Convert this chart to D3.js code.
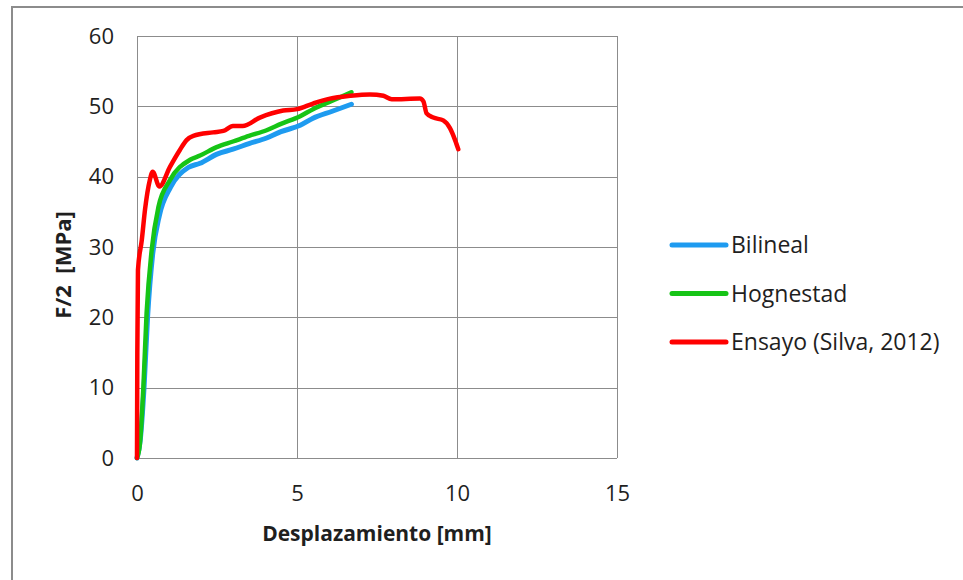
<!DOCTYPE html>
<head>
<meta charset="UTF-8">
<title>F/2 vs Desplazamiento</title>
<style>
body { margin: 0; background: #fff; }
text { font-family: "Open Sans", "Noto Sans", sans-serif; fill: #1f1f1f; }
.grid line { stroke: #8c8c8c; stroke-width: 1px; }
.serie { fill: none; stroke-linejoin: round; stroke-linecap: round; }
</style>
</head>
<body>
<script src="https://cdn.jsdelivr.net/npm/d3@7/dist/d3.min.js"></script>
<script>

// series: [desplazamiento mm, F/2 MPa]
var bilineal = [
  [0, 0], [0.1, 2.5], [0.22, 10], [0.33, 20], [0.49, 29], [0.7, 34.5],
  [1.05, 38.5], [1.6, 41.3], [1.97, 41.9], [2.5, 43.2], [3.0, 43.9],
  [3.5, 44.7], [4.05, 45.5], [4.5, 46.4], [5.1, 47.3], [5.5, 48.3],
  [6.1, 49.3], [6.7, 50.3]
];
var hognestad = [
  [0, 0], [0.09, 2], [0.2, 10.1], [0.3, 20.6], [0.46, 29.6], [0.67, 35.7],
  [1.03, 39.5], [1.66, 42.4], [1.97, 43.0], [2.49, 44.2], [3.0, 45.0],
  [3.5, 45.8], [4.05, 46.6], [4.5, 47.5], [5.1, 48.6], [5.5, 49.6],
  [6.1, 50.8], [6.7, 52.0]
];
var ensayo = [
  [0, 0], [0.01, 15], [0.03, 26.7], [0.15, 31], [0.25, 35.3], [0.4, 39.5],
  [0.49, 40.7], [0.7, 38.6], [1.03, 41.4], [1.34, 43.8], [1.55, 45.2],
  [1.76, 45.8], [2.38, 46.3], [2.7, 46.5], [3.0, 47.2], [3.3, 47.2],
  [3.84, 48.4], [4.57, 49.4], [5.0, 49.6], [5.5, 50.4], [6.03, 51.1],
  [6.66, 51.5], [7.28, 51.7], [7.7, 51.5], [7.96, 51.0], [8.84, 51.1],
  [8.95, 50.7], [9.05, 49.0], [9.26, 48.4], [9.57, 48.0], [9.78, 46.9],
  [9.94, 45.2], [10.04, 43.9]
];

var xTicks = [0, 5, 10, 15];
var yTicks = [0, 10, 20, 30, 40, 50, 60];
var seriesNames = ["Bilineal", "Hognestad", "Ensayo (Silva, 2012)"];
var seriesColors = ["#1e9bf0", "#16c416", "#ff0000"];

var width = 963, height = 580;
var plot = {left: 137, right: 617, top: 36, bottom: 458};

var svg = d3.select("body").append("svg")
    .attr("width", width)
    .attr("height", height);

// outer chart frame
svg.append("rect")
    .attr("x", 12).attr("y", 7)
    .attr("width", width + 20).attr("height", height + 20)
    .attr("fill", "#fff")
    .attr("stroke", "#8c8c8c")
    .attr("stroke-width", 2);

var x = d3.scaleLinear().domain([0, 15]).range([plot.left, plot.right]);
var y = d3.scaleLinear().domain([0, 60]).range([plot.bottom, plot.top]);

// gridlines
var grid = svg.append("g").attr("class", "grid");
grid.selectAll("line.h").data(yTicks).enter().append("line")
    .attr("class", "h")
    .attr("x1", plot.left).attr("x2", plot.right)
    .attr("y1", function(d) { return Math.round(y(d)) + 0.5; })
    .attr("y2", function(d) { return Math.round(y(d)) + 0.5; });
grid.selectAll("line.v").data(xTicks).enter().append("line")
    .attr("class", "v")
    .attr("y1", plot.top).attr("y2", plot.bottom)
    .attr("x1", function(d) { return Math.round(x(d)) + 0.5; })
    .attr("x2", function(d) { return Math.round(x(d)) + 0.5; });

// axes (tick labels only, lines come from the grid)
var xAxis = svg.append("g")
    .attr("transform", "translate(0," + (plot.bottom + 27) + ")")
    .call(d3.axisBottom(x).tickValues(xTicks).tickSize(0).tickPadding(0));
var yAxis = svg.append("g")
    .attr("transform", "translate(" + (plot.left - 23) + ",0)")
    .call(d3.axisLeft(y).tickValues(yTicks).tickSize(0).tickPadding(0));
[xAxis, yAxis].forEach(function(a) {
  a.select(".domain").remove();
  a.selectAll("text").attr("font-size", "22px")
      .attr("font-family", null).attr("fill", "#1f1f1f");
});

// series lines
var line = d3.line()
    .x(function(d) { return x(d[0]); })
    .y(function(d) { return y(d[1]); })
    .curve(d3.curveMonotoneX);

var allSeries = [bilineal, hognestad, ensayo];
var widths = [5, 4.5, 4.5];
svg.selectAll("path.serie").data(allSeries).enter().append("path")
    .attr("class", "serie")
    .attr("d", line)
    .attr("stroke", function(d, i) { return seriesColors[i]; })
    .attr("stroke-width", function(d, i) { return widths[i]; });

// axis titles
svg.append("text")
    .attr("x", (plot.left + plot.right) / 2)
    .attr("y", 541)
    .attr("text-anchor", "middle")
    .attr("font-size", "21px")
    .attr("font-weight", "bold")
    .text("Desplazamiento [mm]");

svg.append("text")
    .attr("transform", "translate(71," + ((plot.top + plot.bottom) / 2 + 18) + ") rotate(-90)")
    .attr("text-anchor", "middle")
    .attr("font-size", "22px")
    .attr("font-weight", "bold")
    .attr("xml:space", "preserve")
    .text("F/2  [MPa]");

// legend
var legend = svg.append("g").attr("transform", "translate(672,245)");
var item = legend.selectAll("g").data(seriesNames).enter().append("g")
    .attr("transform", function(d, i) { return "translate(0," + (i * 48.5) + ")"; });
item.append("line")
    .attr("x1", 0).attr("x2", 54)
    .attr("stroke", function(d, i) { return seriesColors[i]; })
    .attr("stroke-width", 5)
    .attr("stroke-linecap", "round");
item.append("text")
    .attr("x", 59).attr("dy", "0.35em")
    .attr("font-size", "23px")
    .text(function(d) { return d; });

</script>
</body>
